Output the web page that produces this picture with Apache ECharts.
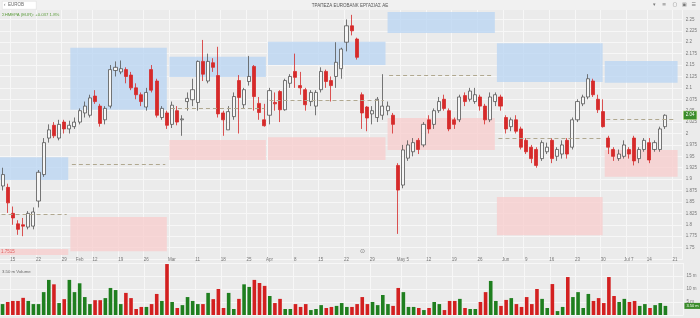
<!DOCTYPE html>
<html><head><meta charset="utf-8">
<script src="https://cdn.jsdelivr.net/npm/echarts@6/dist/echarts.min.js"></script>
<style>html,body{margin:0;padding:0;background:#ebebeb}#c{width:700px;height:318px}</style>
</head><body><div id="c"></div>
<script>
// ---- data ----
const opens = [1.885,1.882,1.825,1.802,1.800,1.795,1.797,1.852,1.910,1.990,2.018,1.990,2.025,2.010,2.015,2.025,2.045,2.040,2.082,2.060,
2.030,2.060,2.138,2.135,2.140,2.128,2.100,2.085,2.058,2.140,2.115,2.035,2.045,2.020,2.050,2.030,2.070,2.074,2.068,2.158,
2.115,2.155,2.127,2.045,2.008,2.037,2.116,2.063,2.114,2.147,2.066,2.030,2.040,2.068,2.092,2.052,2.110,2.136,2.105,2.096,
2.070,2.060,2.096,2.136,2.116,2.125,2.142,2.200,2.236,2.207,2.085,2.058,2.043,2.035,2.040,2.050,2.040,1.930,1.887,1.946,
1.960,1.985,1.975,2.030,2.020,2.050,2.075,2.050,2.030,2.030,2.083,2.075,2.070,2.080,2.060,2.030,2.070,2.080,2.035,2.015,
2.030,2.010,1.985,1.970,1.965,1.945,1.960,1.985,1.950,1.955,1.985,1.970,2.030,2.065,2.080,2.115,2.075,2.048,1.990,1.965,
1.945,1.950,1.965,1.990,1.945,1.965,1.980,1.965,1.965,2.015];
const closes = [1.910,1.848,1.815,1.790,1.797,1.825,1.828,1.915,1.980,2.008,1.995,2.020,2.010,2.018,2.025,2.050,2.060,2.078,2.070,2.022,
2.055,2.140,2.145,2.142,2.125,2.100,2.085,2.070,2.090,2.095,2.040,2.055,2.018,2.062,2.025,2.032,2.077,2.096,2.158,2.130,
2.158,2.145,2.043,2.030,2.048,2.081,2.079,2.096,2.125,2.081,2.046,2.017,2.094,2.065,2.052,2.116,2.125,2.123,2.100,2.063,
2.090,2.090,2.136,2.114,2.105,2.156,2.185,2.236,2.225,2.167,2.045,2.034,2.050,2.075,2.060,2.060,2.020,1.876,1.964,1.975,
1.980,1.965,2.020,2.010,2.050,2.070,2.055,2.010,2.020,2.080,2.070,2.093,2.085,2.060,2.030,2.080,2.085,2.060,2.010,2.030,
2.005,1.970,1.960,1.945,1.930,1.980,1.970,1.945,1.965,1.975,1.955,2.030,2.070,2.080,2.120,2.085,2.052,2.015,1.970,1.950,
1.955,1.975,1.955,1.940,1.965,1.985,1.942,1.980,2.010,2.040];
const lows = [1.875,1.826,1.800,1.778,1.775,1.790,1.790,1.838,1.905,1.980,1.990,1.985,2.000,2.000,2.010,2.020,2.035,2.035,2.065,2.015,
2.020,2.055,2.125,2.130,2.110,2.095,2.075,2.060,2.050,2.090,2.035,2.030,2.010,2.012,2.018,1.995,2.050,2.060,2.050,2.115,
2.110,2.135,2.035,1.995,2.008,2.030,2.000,2.055,2.105,2.050,2.030,2.015,2.020,2.050,2.025,2.050,2.100,2.100,2.085,2.050,
2.060,2.040,2.090,2.100,2.070,2.100,2.120,2.180,2.215,2.162,2.010,2.005,2.020,2.025,2.030,2.040,2.000,1.780,1.880,1.940,
1.950,1.955,1.970,2.000,2.010,2.045,2.050,2.005,2.010,2.025,2.060,2.070,2.065,2.050,2.020,2.025,2.060,2.050,2.000,2.005,
2.000,1.965,1.955,1.935,1.925,1.940,1.955,1.935,1.940,1.945,1.945,1.965,2.025,2.060,2.075,2.080,2.045,2.013,1.955,1.940,
1.940,1.945,1.945,1.930,1.935,1.960,1.935,1.960,1.960,2.010];
const highs = [1.925,1.890,1.840,1.810,1.815,1.830,1.838,1.920,1.990,2.020,2.025,2.030,2.030,2.028,2.035,2.055,2.070,2.085,2.095,2.065,
2.060,2.150,2.158,2.160,2.145,2.135,2.110,2.090,2.100,2.150,2.120,2.060,2.050,2.070,2.060,2.040,2.090,2.120,2.160,2.205,
2.175,2.165,2.190,2.050,2.060,2.090,2.128,2.100,2.170,2.150,2.080,2.065,2.100,2.090,2.095,2.120,2.130,2.175,2.135,2.100,
2.095,2.095,2.145,2.140,2.125,2.200,2.188,2.250,2.260,2.210,2.090,2.060,2.060,2.080,2.130,2.070,2.045,1.935,1.975,1.985,
1.990,1.990,2.025,2.040,2.055,2.080,2.085,2.055,2.035,2.085,2.090,2.100,2.100,2.085,2.065,2.090,2.090,2.085,2.040,2.035,
2.040,2.015,1.990,1.975,1.970,1.985,1.980,1.990,1.970,1.985,1.990,2.035,2.075,2.085,2.130,2.120,2.085,2.075,1.995,1.970,
1.965,1.985,1.970,1.995,1.970,1.990,1.990,1.985,2.015,2.042];
const volumes = [4.2,5.0,5.4,5.4,6.6,5.4,4.2,4.2,8.8,13.5,11.8,4.6,6.1,13.5,8.8,12.2,6.9,4.2,5.7,5.7,
6.5,10.4,9.6,4.2,8.5,6.5,2.3,3.1,3.1,4.2,8.1,5.4,19.6,5.0,2.7,3.8,6.9,5.4,4.2,4.2,
8.5,6.1,10.0,2.7,8.5,2.3,6.2,11.8,10.8,13.5,12.3,11.2,7.3,4.6,6.2,2.3,2.3,4.2,3.1,4.2,
1.9,2.3,3.8,2.7,3.1,3.5,4.6,3.1,3.1,4.2,6.9,4.2,5.0,3.8,7.7,4.2,3.5,10.4,8.8,3.1,
3.1,2.7,1.9,2.7,5.0,4.2,1.9,5.4,5.4,6.2,2.7,2.3,2.3,5.0,8.8,13.1,5.4,3.5,5.8,6.5,
4.2,3.1,6.9,4.2,10.0,6.2,2.7,11.9,1.5,3.1,14.6,6.9,8.8,2.7,8.1,5.4,6.5,4.6,14.6,7.3,
5.0,6.2,5.0,5.4,3.5,4.2,2.7,3.8,4.6,3.5];
const tickIndex = [2,7,12,15,18,23,28,33,38,43,48,52,57,62,67,72,78,83,88,93,98,102,107,112,117,122,126,131];
const tickLabels = ["15","22","29","Feb","12","19","26","Mar","11","18","25","Apr","8","15","22","29","May 5","12","19","26","Jun","9","16","23","30","Jul 7","14","21"];
const zoneStart = [-0.5,13.2,32.5,51.7,75.0,96.3,117.3];
const zoneEnd = [12.8,32.0,51.3,74.6,95.9,116.9,131.5];
const supplyHigh = [1.948,2.188,2.168,2.201,2.266,2.198,2.159];
const supplyLow = [1.898,2.052,2.124,2.150,2.220,2.113,2.111];
const demandHigh = [1.747,1.817,1.986,1.992,2.034,1.861,1.964];
const demandLow = [1.734,1.742,1.942,1.942,1.964,1.777,1.905];
const pivotLevel = [1.823,1.933,2.056,2.073,2.128,1.990,2.032];
const N_CAT = 133;

// ---- build ----
const categories = Array.from({length: N_CAT}, (_, i) => String(i));
const candleData = opens.map((o, i) => [o, closes[i], lows[i], highs[i]]);
const volData = volumes.map((v, i) => ({
  value: v,
  itemStyle: {color: closes[i] >= opens[i] ? '#1f7f1f' : '#d32020'}
}));
const areas = [];
zoneStart.forEach((s, k) => {
  areas.push([{xAxis: s, yAxis: supplyHigh[k], itemStyle: {color: 'rgba(184,212,243,0.75)'}}, {xAxis: zoneEnd[k], yAxis: supplyLow[k]}]);
  const d0 = {xAxis: s, yAxis: demandHigh[k], itemStyle: {color: 'rgba(248,206,206,0.8)'}};
  if (k === 0) d0.label = {show: true, position: 'insideLeft', formatter: '1.7515', color: '#e06060', fontSize: 4.5, distance: 1};
  areas.push([d0, {xAxis: zoneEnd[k], yAxis: demandLow[k]}]);
});
const pivots = pivotLevel.map((v, k) => [{coord: [zoneStart[k] + 0.3, v]}, {coord: [zoneEnd[k] - 0.3, v]}]);
const isTick = (idx) => tickIndex.indexOf(idx) >= 0;
const lastClose = closes[closes.length - 1];
const lastVol = volumes[volumes.length - 1];
const FONT = 'Liberation Sans';
const gridColor = '#f7f7f7';

const chart = echarts.init(document.getElementById('c'), null, {renderer: 'canvas'});
chart.setOption({
  backgroundColor: '#ebebeb',
  animation: false,
  textStyle: {fontFamily: FONT},
  grid: [
    {left: -1.6, right: 16.6, top: 8, height: 251},
    {left: -1.6, right: 16.6, top: 263, height: 52}
  ],
  xAxis: [
    {type: 'category', gridIndex: 0, data: categories, boundaryGap: true,
     axisLine: {show: false}, axisTick: {show: false},
     axisLabel: {interval: (i) => isTick(i), formatter: (v, i) => tickLabels[tickIndex.indexOf(Number(v))] || '',
       margin: -2, fontSize: 4.5, color: '#777', fontFamily: FONT},
     splitLine: {show: true, interval: (i) => isTick(i), lineStyle: {color: gridColor, width: 1}}},
    {type: 'value', gridIndex: 0, min: -0.5, max: N_CAT - 0.5, show: false},
    {type: 'category', gridIndex: 1, data: categories, boundaryGap: true,
     axisLine: {show: false}, axisTick: {show: false}, axisLabel: {show: false},
     splitLine: {show: true, interval: (i) => isTick(i), lineStyle: {color: gridColor, width: 1}}}
  ],
  yAxis: [
    {type: 'value', gridIndex: 0, position: 'right', min: 1.725, max: 2.275, interval: 0.025,
     axisLine: {show: false}, axisTick: {show: false},
     axisLabel: {fontSize: 4.5, color: '#777', margin: 3, showMinLabel: false, showMaxLabel: false,
       formatter: (v) => String(parseFloat(v.toFixed(3)))},
     splitLine: {lineStyle: {color: gridColor, width: 1}}},
    {type: 'value', gridIndex: 1, position: 'right', min: 0, max: 20, interval: 5,
     axisLine: {show: false}, axisTick: {show: false},
     axisLabel: {fontSize: 4.5, color: '#777', margin: 3, showMinLabel: false, showMaxLabel: false,
       formatter: (v) => v + ' m'},
     splitLine: {lineStyle: {color: gridColor, width: 1}}}
  ],
  series: [
    {type: 'line', xAxisIndex: 1, yAxisIndex: 0, data: [[0, 2.0]], symbol: 'none', silent: true, z: 1,
     lineStyle: {opacity: 0},
     markArea: {silent: true, data: areas},
     markLine: {silent: true, symbol: 'none', data: pivots,
       lineStyle: {color: '#b0a890', type: [4, 3], width: 1}, label: {show: false}}},
    {type: 'candlestick', xAxisIndex: 0, yAxisIndex: 0, data: candleData, barWidth: 3.6, z: 3,
     itemStyle: {color: '#f6f6f6', color0: '#d62a2a', borderColor: '#555', borderColor0: '#d62a2a', borderWidth: 0.8},
     markLine: {silent: true, symbol: 'none', lineStyle: {color: 'rgba(0,0,0,0)', width: 0},
       data: [{yAxis: lastClose}],
       label: {show: true, position: 'end', distance: 1, formatter: (p) => String(parseFloat(Number(p.value).toFixed(3))),
         backgroundColor: '#3c8c2c', color: '#fff', fontSize: 4.5, padding: [1.5, 2], borderColor: '#bde28a', borderWidth: 0.6}}},
    {type: 'bar', xAxisIndex: 2, yAxisIndex: 1, data: volData, barWidth: 3.6,
     markLine: {silent: true, symbol: 'none', lineStyle: {color: 'rgba(0,0,0,0)', width: 0},
       data: [{yAxis: lastVol}],
       label: {show: true, position: 'end', distance: 1, formatter: (p) => Number(p.value).toFixed(2) + ' m',
         backgroundColor: '#3c8c2c', color: '#fff', fontSize: 4, padding: [1, 2]}}}
  ],
  graphic: [
    {type: 'rect', left: 0, top: 0, shape: {width: 700, height: 10}, style: {fill: '#f1f1f1'}, z: 10},
    {type: 'rect', left: 2, top: 1, shape: {width: 34, height: 8}, style: {fill: '#fff', stroke: '#d8d8d8', lineWidth: 0.5}, z: 11},
    {type: 'text', left: 4, top: 2.5, style: {text: '‹  EUROB', fontSize: 4.5, fill: '#666', fontFamily: FONT}, z: 12},
    {type: 'text', left: 'center', top: 3, style: {text: 'ΤΡΑΠΕΖΑ EUROBANK ΕΡΓΑΣΙΑΣ ΑΕ', fontSize: 4.5, fill: '#555', fontFamily: FONT}, z: 12},
    {type: 'text', right: 4, top: 2, style: {text: '▾    ≡    ▢   ▣   ☰', fontSize: 5, fill: '#777', fontFamily: 'DejaVu Sans'}, z: 12},
    {type: 'text', left: 2, top: 13, style: {text: 'ΣΗΜΕΡΑ (EUR): +0.037 1.8%', fontSize: 4.3, fill: '#5b9b3b', fontFamily: FONT}, z: 12},
    {type: 'text', left: 2, top: 270, style: {text: lastVol.toFixed(2) + ' m Volume', fontSize: 4.3, fill: '#666', fontFamily: FONT}, z: 12},
    {type: 'text', left: 360, top: 248, style: {text: '⊙', fontSize: 6, fill: '#777', fontFamily: 'DejaVu Sans'}, z: 12}
  ]
});
</script>
</body></html>
